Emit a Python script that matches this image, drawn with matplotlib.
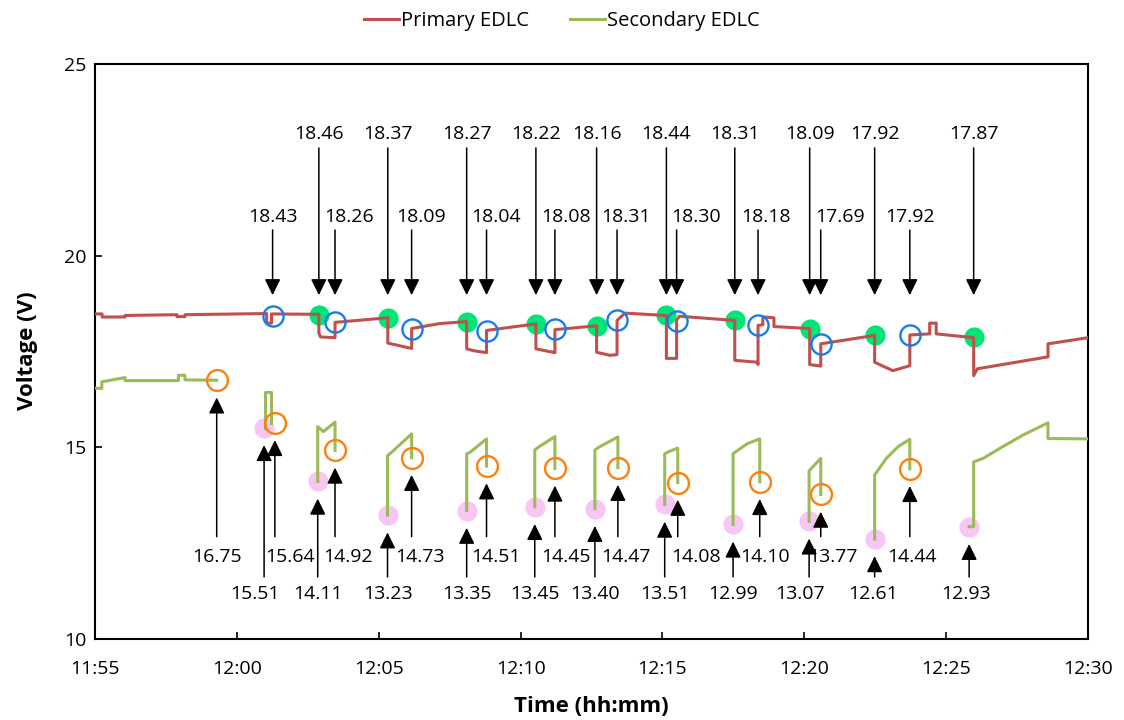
import matplotlib
matplotlib.use("Agg")
import matplotlib.pyplot as plt
from matplotlib.ticker import FixedLocator, FuncFormatter

# time axis: minutes after 11:55
START_MIN = 11 * 60 + 55
x_ticks = [0, 5, 10, 15, 20, 25, 30, 35]
y_ticks = [10, 15, 20, 25]

# primary EDLC voltage trace (minutes, V)
primary_trace = [
    (0.00, 18.48), (0.25, 18.48), (0.25, 18.40), (1.06, 18.40), (1.06, 18.44),
    (2.89, 18.46), (2.89, 18.41), (3.17, 18.41), (3.17, 18.46), (6.05, 18.49),
    (6.05, 18.24), (6.22, 18.24), (6.22, 18.48), (7.89, 18.47),
    (7.89, 17.98), (7.95, 17.88), (8.46, 17.86), (8.46, 18.26), (10.32, 18.38),
    (10.32, 17.72), (11.16, 17.58), (11.16, 18.10), (12.16, 18.23), (13.10, 18.28),
    (13.10, 17.57), (13.35, 17.52), (13.80, 17.47), (13.80, 18.05), (15.54, 18.22),
    (15.54, 17.57), (16.21, 17.47), (16.21, 18.07), (17.68, 18.17),
    (17.68, 17.48), (18.15, 17.40), (18.40, 17.42), (18.40, 18.31), (18.68, 18.50),
    (20.14, 18.44),
    (20.14, 17.32), (20.50, 17.32), (20.50, 18.32), (20.60, 18.42), (22.55, 18.31),
    (22.55, 17.27), (23.35, 17.22), (23.37, 17.16), (23.37, 18.18), (23.54, 18.20),
    (23.54, 18.40), (23.93, 18.38), (23.93, 18.15), (25.19, 18.10),
    (25.19, 17.16), (25.58, 17.12), (25.58, 17.70), (27.48, 17.92),
    (27.48, 17.22), (28.12, 17.00), (28.72, 17.13), (28.72, 17.93), (29.42, 17.96),
    (29.42, 18.24), (29.65, 18.24), (29.65, 17.96), (30.97, 17.86),
    (30.97, 16.87), (31.10, 17.05), (33.59, 17.36), (33.59, 17.70), (35.00, 17.86),
]

# secondary EDLC voltage trace, one list per recorded stretch
secondary_trace = [
    [(0.00, 16.54), (0.24, 16.54), (0.24, 16.71), (1.06, 16.82), (1.06, 16.74),
     (2.94, 16.74), (2.94, 16.88), (3.17, 16.88), (3.17, 16.76), (4.29, 16.75)],
    [(5.99, 15.51), (5.99, 16.44), (6.22, 16.44), (6.22, 15.64)],
    [(7.85, 14.11), (7.85, 15.54), (8.05, 15.41), (8.46, 15.66), (8.46, 14.92)],
    [(10.31, 13.23), (10.31, 14.78), (10.45, 14.87), (11.16, 15.35), (11.16, 14.73)],
    [(13.10, 13.35), (13.10, 14.83), (13.22, 14.87), (13.80, 15.22), (13.80, 14.51)],
    [(15.50, 13.45), (15.50, 14.93), (15.62, 15.00), (16.21, 15.28), (16.21, 14.45)],
    [(17.62, 13.40), (17.62, 14.93), (17.75, 15.00), (18.43, 15.27), (18.43, 14.47)],
    [(20.08, 13.51), (20.08, 14.83), (20.20, 14.88), (20.54, 14.98), (20.54, 14.08)],
    [(22.49, 12.99), (22.49, 14.83), (22.65, 14.92), (23.00, 15.10), (23.43, 15.22),
     (23.43, 14.10)],
    [(25.17, 13.07), (25.17, 14.39), (25.58, 14.71), (25.58, 13.77)],
    [(27.48, 12.61), (27.48, 14.28), (27.89, 14.71), (28.31, 15.02), (28.72, 15.21),
     (28.72, 14.44)],
    [(30.81, 12.93), (30.97, 12.93), (30.97, 14.62), (31.30, 14.71), (32.00, 15.02),
     (32.71, 15.32), (33.59, 15.64), (33.59, 15.23), (35.00, 15.22)],
]

# marked points
green_t = [7.89, 10.32, 13.10, 15.54, 17.68, 20.14, 22.55, 25.19, 27.48, 30.97]
green_v = [18.46, 18.37, 18.27, 18.22, 18.16, 18.44, 18.31, 18.09, 17.92, 17.87]
blue_t = [6.26, 8.46, 11.16, 13.80, 16.21, 18.40, 20.50, 23.37, 25.58, 28.72]
blue_v = [18.43, 18.26, 18.09, 18.04, 18.08, 18.31, 18.30, 18.18, 17.69, 17.92]
pink_t = [5.96, 7.85, 10.31, 13.10, 15.50, 17.62, 20.08, 22.49, 25.17, 27.48, 30.81]
pink_v = [15.51, 14.11, 13.23, 13.35, 13.45, 13.40, 13.51, 12.99, 13.07, 12.61, 12.93]
orange_t = [4.29, 6.34, 8.46, 11.16, 13.80, 16.21, 18.43, 20.54, 23.43, 25.58, 28.72]
orange_v = [16.75, 15.64, 14.92, 14.73, 14.51, 14.45, 14.47, 14.08, 14.10, 13.77, 14.44]

# layout: horizontal nudges of label text (points) so neighbours don't collide
blue_dx = [0, 10, 7, 7, 8, 6.5, 14, 6, 14, 0]
orange_dx = [0, 11, 9, 6, 7, 8, 6, 13, 4, 9, 1.5]
pink_dx = [-6.5, 0, 0, 0, 0, 0, 0, 0, -6.5, -1.5, -2]

RED = "#C0504D"
OLIVE = "#9BBB59"
FONT = ["Open Sans", "DejaVu Sans"]
plt.rcParams["font.family"] = FONT


def fmt_time(x, pos):
    m = int(round(START_MIN + x))
    return f"{m // 60}:{m % 60:02d}"


fig = plt.figure(figsize=(11.24, 7.2), dpi=100)
ax = fig.add_axes([95 / 1124, 1 - 639 / 720, (1088 - 95) / 1124, (639 - 64) / 720])

# filled markers sit under the traces, open circles on top
ax.plot(green_t, green_v, "o", ms=14.5, color="#00E676", mec="none", zorder=2)
ax.plot(pink_t, pink_v, "o", ms=14.5, color="#F8C6F4", mec="none", zorder=2)

pt, pv = zip(*primary_trace)
ax.plot(pt, pv, color=RED, lw=2.2, label="Primary EDLC", zorder=3)
for i, seg in enumerate(secondary_trace):
    st, sv = zip(*seg)
    ax.plot(st, sv, color=OLIVE, lw=2.2, zorder=3,
            label="Secondary EDLC" if i == 0 else None)

ax.plot(blue_t, blue_v, "o", ms=14.5, mfc="none", mec="#1A7BEA", mew=1.7, zorder=4)
ax.plot(orange_t, orange_v, "o", ms=15, mfc="none", mec="#FF7F0E", mew=1.7, zorder=4)

arrow = dict(arrowstyle="-|>,head_length=0.65,head_width=0.32", color="black",
             lw=1.1, mutation_scale=15, shrinkA=0, shrinkB=0)
TOP_TIP = 18.97
LABEL_FS = 14


def callout(t, v, text_y, tail_y, tip_y, dx):
    ax.annotate("", xy=(t, tip_y), xytext=(t, tail_y), arrowprops=arrow, zorder=5)
    ax.annotate(f"{v:.2f}", xy=(t, text_y), xytext=(dx, 0), textcoords="offset points",
                ha="center", va="center", fontsize=LABEL_FS, zorder=5)


for t, v in zip(green_t, green_v):
    callout(t, v, 23.17, 22.81, TOP_TIP, 0)
for t, v, dx in zip(blue_t, blue_v, blue_dx):
    callout(t, v, 21.00, 20.67, TOP_TIP, dx)
for t, v, dx in zip(orange_t, orange_v, orange_dx):
    callout(t, v, 12.13, 12.67, v - 0.45, dx)
for t, v, dx in zip(pink_t, pink_v, pink_dx):
    callout(t, v, 11.17, 11.62, v - 0.45, dx)

ax.set_xlim(0, 35)
ax.set_ylim(10, 25)
ax.xaxis.set_major_locator(FixedLocator(x_ticks))
ax.xaxis.set_major_formatter(FuncFormatter(fmt_time))
ax.yaxis.set_major_locator(FixedLocator(y_ticks))
ax.tick_params(direction="in", length=5, width=1.2, labelsize=14, colors="black")
ax.tick_params(axis="x", pad=15)
ax.tick_params(axis="y", pad=6)
for s in ax.spines.values():
    s.set_linewidth(1.5)
    s.set_color("black")

fig.text(27 / 1124, 1 - 351 / 720, "Voltage (V)", rotation=90, ha="center", va="center",
         fontsize=16, fontweight="bold")
fig.text(591 / 1124, 1 - 706 / 720, "Time (hh:mm)", ha="center", va="center",
         fontsize=16, fontweight="bold")

fig.legend(loc="center", bbox_to_anchor=(0.5, 1 - 21 / 720), ncol=2, frameon=False,
           fontsize=14.5, handlelength=1.75, handletextpad=0.1, columnspacing=2.0)

fig.savefig("out.png", dpi=100)
